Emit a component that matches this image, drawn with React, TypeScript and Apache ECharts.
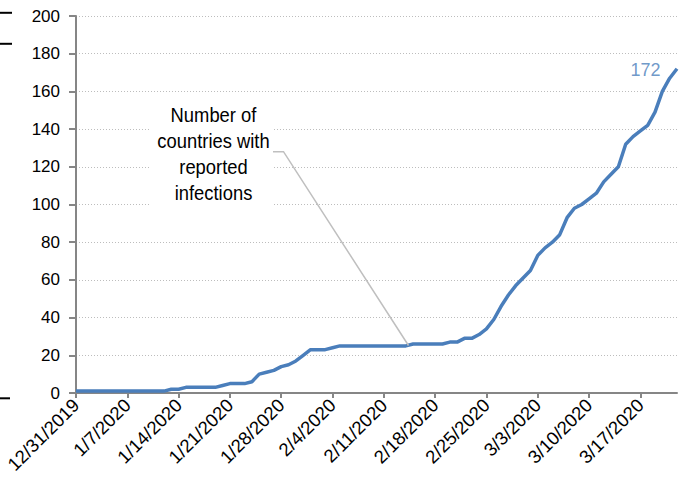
import React, { useEffect, useRef } from "react";
import * as echarts from "echarts";

// Number of countries with reported infections, one value per day from 12/31/2019
const countries: number[] = [
  1, 1, 1, 1, 1, 1, 1, 1, 1, 1, 1, 1, 1, // 12/31 - 1/12
  2, 2, // 1/13 - 1/14
  3, 3, 3, 3, 3, // 1/15 - 1/19
  4, // 1/20
  5, 5, 5, // 1/21 - 1/23
  6, 10, 11, 12, 14, 15, 17, 20, 23, 23, 23, 24, // 1/24 - 2/4
  25, 25, 25, 25, 25, 25, 25, 25, 25, 25, // 2/5 - 2/14
  26, 26, 26, 26, 26, // 2/15 - 2/19
  27, 27, 29, 29, 31, 34, 39, 46, 52, 57, // 2/20 - 2/29
  61, 65, 73, 77, 80, 84, 93, 98, 100, 103, // 3/1 - 3/10
  106, 112, 116, 120, 132, 136, 139, 142, 149, 160, // 3/11 - 3/20
  167, 172, // 3/21 - 3/22
];

const startYear = 2019;
const startMonthIndex = 11; // December
const startDay = 31;

const categories: string[] = countries.map((_, i) => {
  const d = new Date(Date.UTC(startYear, startMonthIndex, startDay + i));
  return `${d.getUTCMonth() + 1}/${d.getUTCDate()}/${d.getUTCFullYear()}`;
});

const annotationLines: string[] = ["Number of", "countries with", "reported", "infections"];

const yMin = 0;
const yMax = 200;
const yStep = 20;
const labelEvery = 7;

export default function App() {
  const ref = useRef<HTMLDivElement>(null);

  useEffect(() => {
    if (!ref.current) return;
    const chart = echarts.init(ref.current, undefined, { renderer: "svg" });
    const axisColor = "#868686";
    const lastIdx = countries.length - 1;
    const font = "'Liberation Sans', Arial, sans-serif";

    chart.setOption({
      animation: false,
      grid: { left: 76, right: 2, top: 16, bottom: 92, containLabel: false },
      xAxis: {
        type: "category",
        data: categories,
        boundaryGap: false,
        axisLine: { lineStyle: { color: axisColor, width: 2 } },
        axisTick: {
          interval: labelEvery - 1,
          length: 5,
          lineStyle: { color: axisColor, width: 2 },
        },
        axisLabel: {
          interval: labelEvery - 1,
          rotate: 45,
          margin: 9,
          fontSize: 18.5,
          fontFamily: font,
          color: "#000",
        },
        splitLine: { show: false },
      },
      yAxis: {
        type: "value",
        min: yMin,
        max: yMax,
        interval: yStep,
        axisLine: { show: true, lineStyle: { color: axisColor, width: 2 } },
        axisTick: { show: true, length: 7, lineStyle: { color: axisColor, width: 2 } },
        axisLabel: {
          margin: 16,
          fontSize: 17,
          fontFamily: font,
          color: "#000",
        },
        splitLine: { lineStyle: { type: [1, 2], color: "#bdbdbd", width: 1 } },
      },
      series: [
        {
          type: "line",
          data: countries,
          symbol: "none",
          lineStyle: { color: "#4a7ebb", width: 3.5 },
          z: 3,
        },
        {
          type: "scatter",
          data: [[categories[lastIdx], countries[lastIdx]]],
          symbol: "circle",
          symbolSize: 1,
          itemStyle: { color: "rgba(0,0,0,0)" },
          silent: true,
          label: {
            show: true,
            position: "left",
            distance: 16,
            offset: [0, 1.5],
            formatter: () => String(countries[lastIdx]),
            color: "#4a7ebb",
            fontSize: 18,
            fontFamily: font,
          },
          z: 4,
        },
      ],
      graphic: [
        {
          type: "rect",
          shape: { x: 150, y: 97, width: 123, height: 115 },
          style: { fill: "#ffffff" },
          z: 100,
        },
        {
          type: "text",
          x: 213.5,
          y: 154,
          scaleX: 0.92,
          z: 101,
          style: {
            text: annotationLines.join("\n"),
            fontSize: 20,
            fontFamily: font,
            fill: "#000",
            align: "center",
            verticalAlign: "middle",
            lineHeight: 26,
          },
        },
        {
          type: "polyline",
          shape: { points: [[273, 151.7], [283.5, 151.7], [408.5, 345.5]] },
          style: { stroke: "#bfbfbf", lineWidth: 1.5, fill: null },
          z: 101,
        },
        {
          type: "line",
          shape: { x1: 0, y1: 12.8, x2: 12, y2: 12.8 },
          style: { stroke: "#000", lineWidth: 2 },
          z: 101,
        },
        {
          type: "line",
          shape: { x1: 0, y1: 43.8, x2: 12, y2: 43.8 },
          style: { stroke: "#000", lineWidth: 2 },
          z: 101,
        },
        {
          type: "line",
          shape: { x1: 0, y1: 398.3, x2: 10, y2: 398.3 },
          style: { stroke: "#000", lineWidth: 2 },
          z: 101,
        },
      ],
    });

    return () => chart.dispose();
  }, []);

  return (
    <div
      ref={ref}
      style={{ position: "fixed", left: 0, top: 0, width: 679, height: 485, background: "#fff" }}
    />
  );
}
